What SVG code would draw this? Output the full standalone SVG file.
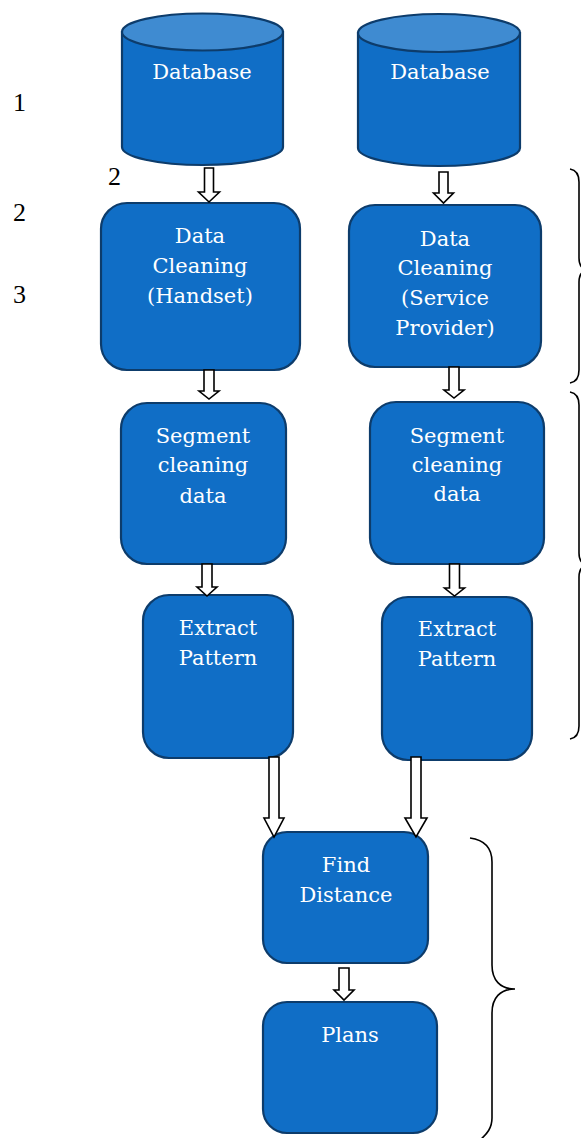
<svg xmlns="http://www.w3.org/2000/svg" width="581" height="1138" viewBox="0 0 581 1138">
<style>
.box{fill:#106ec6;stroke:#0d3c6b;stroke-width:2.2}
.top{fill:#3f8bd1;stroke:#0d3c6b;stroke-width:2.2}
.lbl{font-family:"DejaVu Serif","Liberation Serif",serif;font-size:21px;fill:#ffffff;text-anchor:middle}
.num{font-family:"Liberation Serif",serif;font-size:26px;fill:#000000}
.arr{fill:#ffffff;stroke:#000000;stroke-width:1.6;stroke-linejoin:miter}
.brace{fill:none;stroke:#000000;stroke-width:1.6}
</style>
<rect width="581" height="1138" fill="#ffffff"/>
<g id="labels">
<text class="num" x="13" y="111">1</text>
<text class="num" x="13" y="221">2</text>
<text class="num" x="13" y="303">3</text>
<text class="num" x="108" y="185">2</text>
</g>
<g id="db1">
<path class="box" d="M122,32 L122,147 A80.5,18 0 0 0 283,147 L283,32 Z"/>
<ellipse class="top" cx="202.5" cy="32" rx="80.5" ry="18.5"/>
<text class="lbl" x="202" y="79">Database</text>
</g>
<g id="db2">
<path class="box" d="M358,33 L358,148 A81,18 0 0 0 520,148 L520,33 Z"/>
<ellipse class="top" cx="439" cy="33" rx="81" ry="19"/>
<text class="lbl" x="440" y="79">Database</text>
</g>
<g id="clean1">
<rect class="box" x="101" y="203" width="199" height="167" rx="26"/>
<text class="lbl" x="200" y="243">Data</text>
<text class="lbl" x="200" y="273">Cleaning</text>
<text class="lbl" x="200" y="303">(Handset)</text>
</g>
<g id="clean2">
<rect class="box" x="349" y="205" width="192" height="162" rx="26"/>
<text class="lbl" x="445" y="246">Data</text>
<text class="lbl" x="445" y="275">Cleaning</text>
<text class="lbl" x="445" y="305">(Service</text>
<text class="lbl" x="445" y="335">Provider)</text>
</g>
<g id="seg1">
<rect class="box" x="121" y="403" width="165" height="161" rx="26"/>
<text class="lbl" x="203" y="443">Segment</text>
<text class="lbl" x="203" y="472">cleaning</text>
<text class="lbl" x="203" y="503">data</text>
</g>
<g id="seg2">
<rect class="box" x="370" y="402" width="174" height="162" rx="26"/>
<text class="lbl" x="457" y="443">Segment</text>
<text class="lbl" x="457" y="472">cleaning</text>
<text class="lbl" x="457" y="501">data</text>
</g>
<g id="ext1">
<rect class="box" x="143" y="595" width="150" height="163" rx="26"/>
<text class="lbl" x="218" y="635">Extract</text>
<text class="lbl" x="218" y="665">Pattern</text>
</g>
<g id="ext2">
<rect class="box" x="382" y="597" width="150" height="163" rx="26"/>
<text class="lbl" x="457" y="636">Extract</text>
<text class="lbl" x="457" y="666">Pattern</text>
</g>
<g id="find">
<rect class="box" x="263" y="832" width="165" height="131" rx="24"/>
<text class="lbl" x="346" y="872">Find</text>
<text class="lbl" x="346" y="902">Distance</text>
</g>
<g id="plans">
<rect class="box" x="263" y="1002" width="174" height="131" rx="24"/>
<text class="lbl" x="350" y="1042">Plans</text>
</g>
<g id="connectors">
<path class="arr" d="M204.5,168 L213.5,168 L213.5,192 L219.5,192 L209,202 L198.5,192 L204.5,192 Z"/>
<path class="arr" d="M439,172 L448,172 L448,193 L453.5,193 L443.5,203 L433.5,193 L439,193 Z"/>
<path class="arr" d="M204,370 L214,370 L214,391 L219,391 L209,399 L199,391 L204,391 Z"/>
<path class="arr" d="M449,367 L459,367 L459,390 L464,390 L454,398 L444,390 L449,390 Z"/>
<path class="arr" d="M202,564 L212,564 L212,587 L217,587 L207,596 L197,587 L202,587 Z"/>
<path class="arr" d="M449.5,564 L459.5,564 L459.5,588 L464.5,588 L454.5,596 L444.5,588 L449.5,588 Z"/>
<path class="arr" d="M269,757 L279,757 L279,818 L284,818 L274,837 L264,818 L269,818 Z"/>
<path class="arr" d="M411,757 L421,757 L421,818 L427,818 L416,837 L405,818 L411,818 Z"/>
<path class="arr" d="M339,968 L349,968 L349,990 L354,990 L344,1000 L334,990 L339,990 Z"/>
</g>
<g id="braces">
<path class="brace" d="M570,169 C576,170 579,175 579,182 L579,258 C579,266 582,270 590,270 C582,270 579,274 579,282 L579,370 C579,377 576,382 570,383"/>
<path class="brace" d="M570,392 C576,393 579,398 579,405 L579,553 C579,561 582,565 590,565 C582,565 579,569 579,577 L579,726 C579,733 576,738 570,739"/>
<path class="brace" d="M470,838 C485,840 492,848 492,862 L492,965 C492,980 500,989 515,989 C500,989 492,998 492,1013 L492,1118 C492,1128 487,1134 480,1140"/>
</g>
</svg>
